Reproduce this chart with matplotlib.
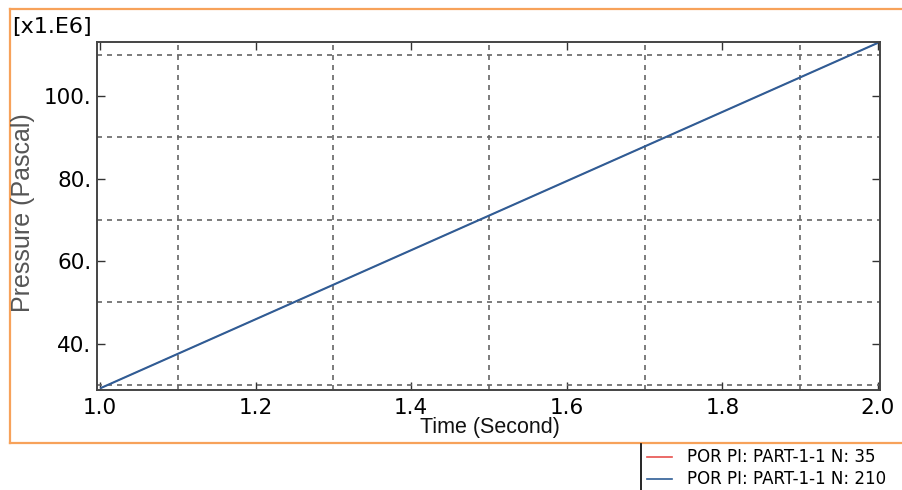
import matplotlib
matplotlib.use("Agg")
import matplotlib.pyplot as plt
from matplotlib.lines import Line2D
from matplotlib.ticker import FixedLocator, FuncFormatter

# Pore pressure history at two nodes (values in units of 1e6 Pa)
time_s = [1.0, 2.0]
por_n35 = [29.2, 112.9]
por_n210 = [29.2, 112.9]

series_labels = ["POR PI: PART-1-1 N: 35", "POR PI: PART-1-1 N: 210"]
series_colors = ["#e8524e", "#2f5d96"]

x_ticks = [1.0, 1.2, 1.4, 1.6, 1.8, 2.0]
x_grid = [1.1, 1.3, 1.5, 1.7, 1.9]
y_ticks = [40, 60, 80, 100]
y_grid = [30, 50, 70, 90, 110]

W, H = 902, 490
fig = plt.figure(figsize=(W / 100, H / 100), dpi=100)

ax = fig.add_axes([97 / W, 1 - 390 / H, (880 - 97) / W, (390 - 42) / H])

ax.plot(time_s, por_n35, color=series_colors[0], lw=0.8, solid_capstyle="butt")
ax.plot(time_s, por_n210, color=series_colors[1], lw=1.5, solid_capstyle="butt")

ax.set_xlim(0.996, 2.0026)
ax.set_ylim(28.8, 113.1)

ax.xaxis.set_major_locator(FixedLocator(x_ticks))
ax.xaxis.set_minor_locator(FixedLocator(x_grid))
ax.yaxis.set_major_locator(FixedLocator(y_ticks))
ax.yaxis.set_minor_locator(FixedLocator(y_grid))
ax.xaxis.set_major_formatter(FuncFormatter(lambda v, p: f"{v:.1f}"))
ax.yaxis.set_major_formatter(FuncFormatter(lambda v, p: f"{int(round(v))}."))

ax.tick_params(which="major", direction="in", length=6, width=1, color="#333333",
               top=True, right=True, labelsize=15.5, labelcolor="black")
ax.tick_params(which="minor", length=0, top=True, right=True)
ax.tick_params(axis="x", which="major", pad=6)
ax.tick_params(axis="y", which="major", pad=4)

ax.grid(which="minor", color="#666666", linestyle=(0, (3, 3)), linewidth=1.2)
ax.grid(which="major", visible=False)
ax.set_axisbelow(True)

for s in ax.spines.values():
    s.set_color("#444444")
    s.set_linewidth(1.4)

# Axis titles and scale factor
fig.text(490 / W, 1 - 427 / H, "Time (Second)", family="Liberation Sans",
         fontsize=15.5, color="#111111", ha="center", va="center")
fig.text(23 / W, 1 - 213 / H, "Pressure (Pascal)", family="Liberation Sans",
         fontsize=18, color="#555555", ha="center", va="center", rotation=90)
fig.text(12 / W, 1 - 27 / H, "[x1.E6]", fontsize=16, color="black",
         ha="left", va="center")

# Orange frame around the plot region
frame_c = "#f7a25a"
fig.add_artist(Line2D([10 / W, 10 / W], [1 - 9 / H, 1 - 443 / H],
                      transform=fig.transFigure, color=frame_c, lw=1.6))
fig.add_artist(Line2D([10 / W, 1.0], [1 - 9 / H, 1 - 9 / H],
                      transform=fig.transFigure, color=frame_c, lw=1.6))
fig.add_artist(Line2D([10 / W, 1.0], [1 - 443 / H, 1 - 443 / H],
                      transform=fig.transFigure, color=frame_c, lw=1.6))

# Legend block
fig.add_artist(Line2D([641 / W, 641 / W], [1 - 444 / H, 0.0],
                      transform=fig.transFigure, color="black", lw=1.2))
row_y = [457, 479]
for lbl, col, yy in zip(series_labels, series_colors, row_y):
    fig.add_artist(Line2D([647 / W, 672 / W], [1 - yy / H, 1 - yy / H],
                          transform=fig.transFigure, color=col, lw=1.2))
    fig.text(687 / W, 1 - yy / H, lbl, fontsize=12, color="black",
             ha="left", va="center")

fig.savefig("out.png", dpi=100)
